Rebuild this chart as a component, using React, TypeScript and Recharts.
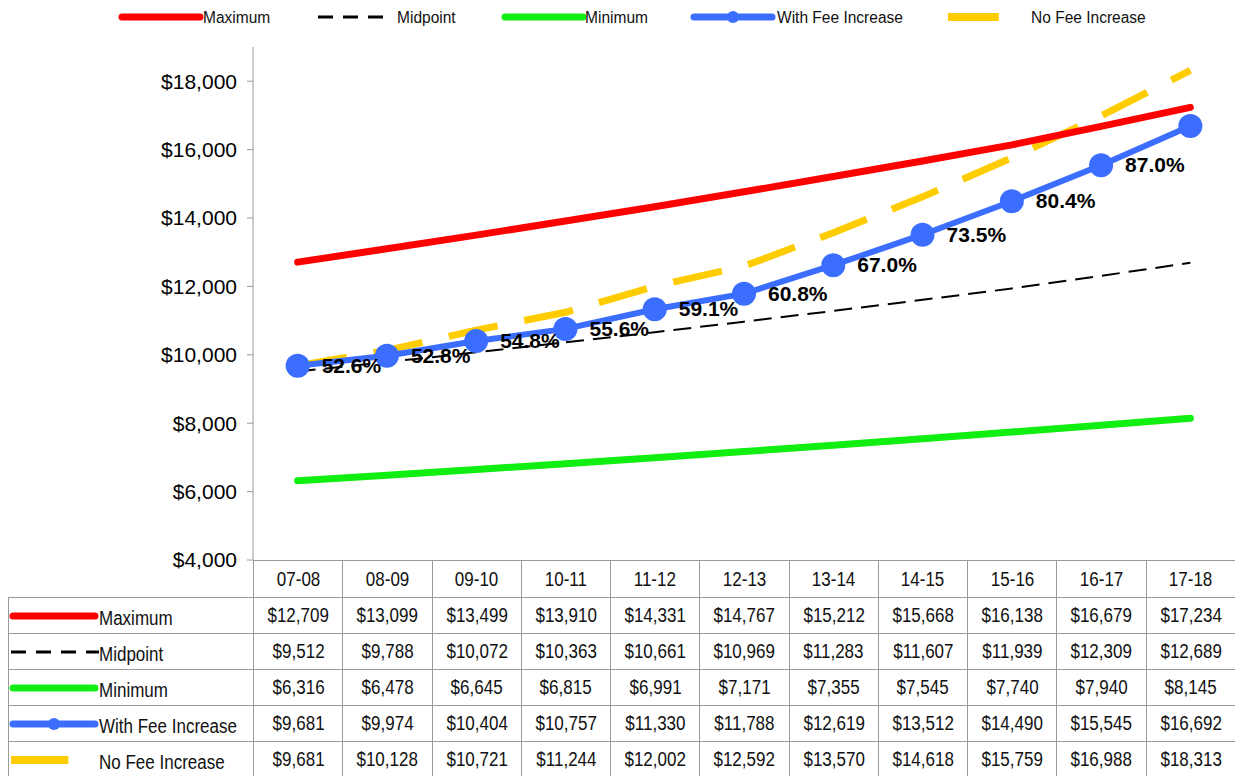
import React from 'react';
import { LineChart, Line, XAxis, YAxis, LabelList } from 'recharts';

const YEARS = ['07-08', '08-09', '09-10', '10-11', '11-12', '12-13', '13-14', '14-15', '15-16', '16-17', '17-18'];
const MAXIMUM = [12709, 13099, 13499, 13910, 14331, 14767, 15212, 15668, 16138, 16679, 17234];
const MIDPOINT = [9512, 9788, 10072, 10363, 10661, 10969, 11283, 11607, 11939, 12309, 12689];
const MINIMUM = [6316, 6478, 6645, 6815, 6991, 7171, 7355, 7545, 7740, 7940, 8145];
const WITH_FEE = [9681, 9974, 10404, 10757, 11330, 11788, 12619, 13512, 14490, 15545, 16692];
const NO_FEE = [9681, 10128, 10721, 11244, 12002, 12592, 13570, 14618, 15759, 16988, 18313];
const PERCENT = ['52.6%', '52.8%', '54.8%', '55.6%', '59.1%', '60.8%', '67.0%', '73.5%', '80.4%', '87.0%', ''];
const Y_TICKS = [4000, 6000, 8000, 10000, 12000, 14000, 16000, 18000];

const RED = '#FF0000';
const GREEN = '#11EE11';
const BLUE = '#3B6EFF';
const YELLOW = '#FFCC00';
const GRID = '#9A9A9A';
const SANS = "'Liberation Sans', Arial, sans-serif";

const data = YEARS.map((year, i) => ({
  year,
  max: MAXIMUM[i],
  mid: MIDPOINT[i],
  min: MINIMUM[i],
  withFee: WITH_FEE[i],
  noFee: NO_FEE[i],
  pct: PERCENT[i],
}));

const money = (v: number) => '$' + v.toLocaleString('en-US');

type SeriesKey = 'max' | 'mid' | 'min' | 'withFee' | 'noFee';

const SERIES: { key: SeriesKey; name: string; values: number[] }[] = [
  { key: 'max', name: 'Maximum', values: MAXIMUM },
  { key: 'mid', name: 'Midpoint', values: MIDPOINT },
  { key: 'min', name: 'Minimum', values: MINIMUM },
  { key: 'withFee', name: 'With Fee Increase', values: WITH_FEE },
  { key: 'noFee', name: 'No Fee Increase', values: NO_FEE },
];

// no narrow font available, so squeeze Liberation Sans horizontally
const Narrow = ({ children, origin = 'center', k = 0.85 }: { children: React.ReactNode; origin?: string; k?: number }) => (
  <span style={{ display: 'inline-block', whiteSpace: 'nowrap', transform: `scaleX(${k})`, transformOrigin: origin }}>
    {children}
  </span>
);

// little line sample used in the legend and in the table row headers
const Swatch = ({ k, w }: { k: SeriesKey; w: number }) => {
  const y = 8;
  if (k === 'mid')
    return (
      <svg width={w} height={16}>
        <line x1={2} x2={w} y1={y} y2={y} stroke="#000" strokeWidth={3} strokeDasharray="15 10" />
      </svg>
    );
  if (k === 'noFee')
    return (
      <svg width={w} height={16}>
        <line x1={2} x2={w * 0.66} y1={y} y2={y} stroke={YELLOW} strokeWidth={8} />
      </svg>
    );
  const color = k === 'max' ? RED : k === 'min' ? GREEN : BLUE;
  return (
    <svg width={w} height={16}>
      <line x1={4} x2={w - 4} y1={y} y2={y} stroke={color} strokeWidth={7} strokeLinecap="round" />
      {k === 'withFee' && <circle cx={w / 2} cy={y} r={6} fill={BLUE} />}
    </svg>
  );
};

const LEGEND: { k: SeriesKey; x: number; w: number; tx: number; label: string }[] = [
  { k: 'max', x: 118, w: 86, tx: 203, label: 'Maximum' },
  { k: 'mid', x: 316, w: 76, tx: 397, label: 'Midpoint' },
  { k: 'min', x: 501, w: 86, tx: 585, label: 'Minimum' },
  { k: 'withFee', x: 690, w: 86, tx: 777, label: 'With Fee Increase' },
  { k: 'noFee', x: 946, w: 80, tx: 1031, label: 'No Fee Increase' },
];

const PctLabel = (props: any) => {
  const { x, y, value } = props;
  if (!value) return null;
  return (
    <text x={x + 24} y={y} dy={7} fontFamily={SANS} fontWeight="bold" fontSize={21} fill="#000">
      {value}
    </text>
  );
};

const COL_W = 982 / YEARS.length;

export default function App() {
  const cell: React.CSSProperties = {
    border: `1px solid ${GRID}`,
    textAlign: 'center',
    padding: 0,
    fontFamily: SANS,
    fontSize: 20,
    color: '#111',
    overflow: 'hidden',
  };
  return (
    <div style={{ position: 'absolute', left: 0, top: 0, width: 1235, height: 776, overflow: 'hidden', background: '#fff' }}>
      {LEGEND.map((l) => (
        <React.Fragment key={l.k}>
          <div style={{ position: 'absolute', left: l.x, top: 9 }}>
            <Swatch k={l.k} w={l.w} />
          </div>
          <div style={{ position: 'absolute', left: l.tx, top: 9, fontFamily: SANS, fontSize: 16, color: '#111' }}>
            <Narrow origin="left" k={0.97}>{l.label}</Narrow>
          </div>
        </React.Fragment>
      ))}

      <div style={{ position: 'absolute', left: 0, top: 0 }}>
        <LineChart width={1235} height={580} data={data} margin={{ top: 47, right: 0, bottom: 20, left: 0 }}>
          <XAxis dataKey="year" hide padding={{ left: COL_W / 2, right: COL_W / 2 }} />
          <YAxis
            width={253}
            domain={[4000, 19000]}
            ticks={Y_TICKS}
            interval={0}
            tickFormatter={money}
            axisLine={{ stroke: GRID }}
            tickLine={{ stroke: GRID }}
            tickSize={6}
            tickMargin={10}
            tick={{ fill: '#000', fontSize: 21, fontFamily: SANS }}
          />
          <Line dataKey="noFee" stroke={YELLOW} strokeWidth={7} strokeDasharray="50 27" dot={false} isAnimationActive={false} />
          <Line dataKey="max" stroke={RED} strokeWidth={7} strokeLinecap="round" dot={false} isAnimationActive={false} />
          <Line dataKey="min" stroke={GREEN} strokeWidth={7} strokeLinecap="round" dot={false} isAnimationActive={false} />
          <Line
            dataKey="withFee"
            stroke={BLUE}
            strokeWidth={6}
            dot={{ r: 12, fill: BLUE, stroke: 'none' }}
            isAnimationActive={false}
          >
            <LabelList dataKey="pct" content={<PctLabel />} />
          </Line>
          <Line dataKey="mid" stroke="#000" strokeWidth={2} strokeDasharray="18 9" dot={false} isAnimationActive={false} />
        </LineChart>
      </div>

      <table
        style={{
          position: 'absolute',
          left: 8,
          top: 560,
          borderCollapse: 'collapse',
          tableLayout: 'fixed',
          width: 1228,
        }}
      >
        <colgroup>
          <col style={{ width: 245 }} />
          {YEARS.map((y) => (
            <col key={y} style={{ width: COL_W }} />
          ))}
        </colgroup>
        <tbody>
          <tr style={{ height: 37 }}>
            <td style={{ padding: 0, border: 'none', borderBottom: `1px solid ${GRID}` }} />
            {YEARS.map((y) => (
              <td key={y} style={cell}>
                <Narrow>{y}</Narrow>
              </td>
            ))}
          </tr>
          {SERIES.map((s) => (
            <tr key={s.key} style={{ height: 36 }}>
              <td style={{ ...cell, textAlign: 'left' }}>
                <div style={{ display: 'flex', alignItems: 'center', height: 34 }}>
                  <div style={{ width: 90, height: 16, display: 'flex', flex: 'none' }}>
                    <Swatch k={s.key} w={90} />
                  </div>
                  <span style={{ marginTop: 6 }}>
                    <Narrow origin="left">{s.name}</Narrow>
                  </span>
                </div>
              </td>
              {s.values.map((v, i) => (
                <td key={i} style={cell}>
                  <Narrow>{money(v)}</Narrow>
                </td>
              ))}
            </tr>
          ))}
        </tbody>
      </table>
    </div>
  );
}
